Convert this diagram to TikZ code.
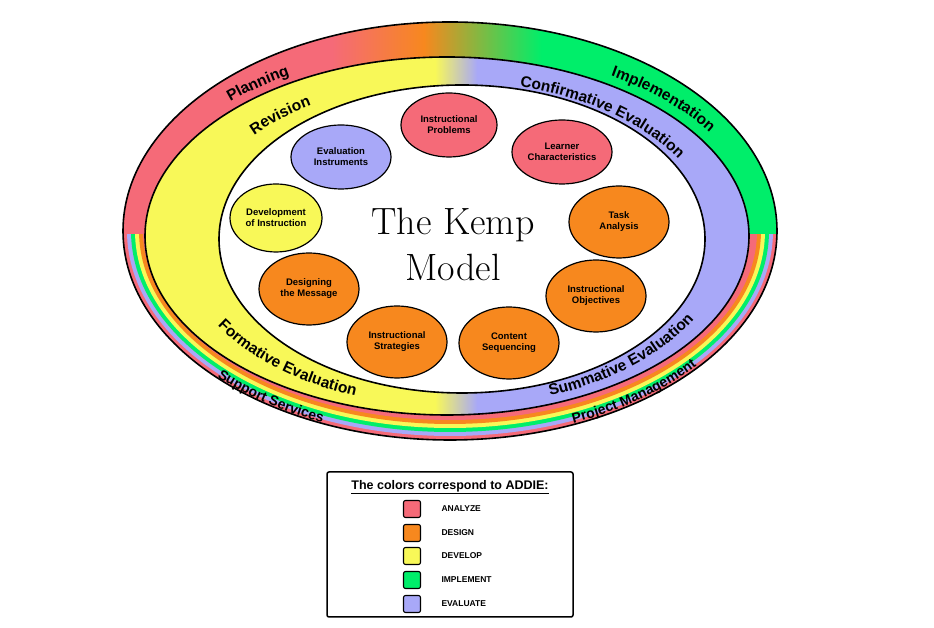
\documentclass[tikz,border=0pt]{standalone}
\usepackage{fontspec}
\setsansfont{Liberation Sans}
\usetikzlibrary{shapes.geometric,decorations.text}
\definecolor{kred}{HTML}{F56A78}
\definecolor{korange}{HTML}{F7881E}
\definecolor{kyellow}{HTML}{F8F858}
\definecolor{kgreen}{HTML}{00EE6A}
\definecolor{klav}{HTML}{A8A8F8}
\pgfdeclarehorizontalshading{topband}{100bp}{color(0bp)=(kred); color(41bp)=(kred); color(48bp)=(korange); color(57bp)=(kgreen); color(100bp)=(kgreen)}
\pgfdeclarehorizontalshading{midband}{100bp}{color(0bp)=(kyellow); color(49bp)=(kyellow); color(52.5bp)=(klav); color(100bp)=(klav)}
\begin{document}
\begin{tikzpicture}[x=1pt,y=1pt,
  kn/.style={ellipse,draw,line width=1.2pt,inner sep=0pt,align=center,
    font=\sffamily\bfseries\fontsize{9.5}{11}\selectfont},
  band/.style={decorate,decoration={text along path,text align=center,
    text={|\sffamily\bfseries\fontsize{15.5}{16}\selectfont|#1}}},
  sband/.style={decorate,decoration={text along path,text align=center,
    text={|\sffamily\bfseries\fontsize{14}{15}\selectfont|#1}}},
  sq/.style={draw,line width=1.1pt,rounded corners=2pt,minimum size=17pt,inner sep=0pt},
  lab/.style={anchor=west,font=\sffamily\bfseries\fontsize{8.5}{10}\selectfont}]
\useasboundingbox (0,0) rectangle (934,628);
\fill[white] (0,0) rectangle (934,628);
% outer band
\begin{scope}
\clip (0,393) rectangle (934,628);
\shade[shading=topband] (450,397) ellipse[x radius=327pt,y radius=209pt];
\end{scope}
\begin{scope}
\clip (0,0) rectangle (934,393);
\fill[kred] (450,397) ellipse[x radius=327pt,y radius=209pt];
\fill[klav] (450,397) ellipse[x radius=323pt,y radius=205pt];
\fill[kgreen] (450,397) ellipse[x radius=319pt,y radius=201pt];
\fill[kyellow] (450,397) ellipse[x radius=315pt,y radius=197pt];
\fill[korange] (450,397) ellipse[x radius=311pt,y radius=193pt];
\fill[kred] (450,397) ellipse[x radius=307pt,y radius=189pt];
\end{scope}
\draw[line width=1.6pt] (450,397) ellipse[x radius=327pt,y radius=209pt];
% middle band
\shade[shading=midband,draw=black,line width=1.6pt] (447,392) ellipse[x radius=302pt,y radius=179pt];
\filldraw[fill=white,line width=1.6pt] (462,389) ellipse[x radius=243pt,y radius=154pt];
% band texts
\path[band=Planning] (449,394) ++(150:312pt and 185pt) arc[start angle=150,end angle=108,x radius=312pt,y radius=185pt];
\path[band=Implementation] (449,394) ++(70:312pt and 185pt) arc[start angle=70,end angle=18,x radius=312pt,y radius=185pt];
\path[sband=Support Services] (449,396) ++(200:325pt and 207pt) arc[start angle=200,end angle=266,x radius=325pt,y radius=207pt];
\path[sband=Project Management] (449,396) ++(277:325pt and 207pt) arc[start angle=277,end angle=340,x radius=325pt,y radius=207pt];
\path[band=Revision] (452,390) ++(152:262pt and 157pt) arc[start angle=152,end angle=112,x radius=262pt,y radius=157pt];
\path[band=Confirmative Evaluation] (452,390) ++(86:262pt and 157pt) arc[start angle=86,end angle=14,x radius=262pt,y radius=157pt];
\path[band=Formative Evaluation] (452,390) ++(190:274pt and 169pt) arc[start angle=190,end angle=264,x radius=274pt,y radius=169pt];
\path[band=Summative Evaluation] (452,390) ++(278:276pt and 169pt) arc[start angle=278,end angle=350,x radius=276pt,y radius=169pt];
% nodes
\node[kn,fill=kred,minimum width=96pt,minimum height=64pt] (ip) at (449,503) {Instructional\\Problems};
\node[kn,fill=kred,minimum width=100pt,minimum height=64pt] (lc) at (562,476) {Learner\\Characteristics};
\node[kn,fill=korange,minimum width=100pt,minimum height=72pt] (ta) at (619,406) {Task\\Analysis};
\node[kn,fill=korange,minimum width=100pt,minimum height=72pt] (io) at (596,332) {Instructional\\Objectives};
\node[kn,fill=korange,minimum width=100pt,minimum height=72pt] (cs) at (509,285) {Content\\Sequencing};
\node[kn,fill=korange,minimum width=100pt,minimum height=72pt] (is) at (397,286) {Instructional\\Strategies};
\node[kn,fill=korange,minimum width=100pt,minimum height=72pt] (dm) at (309,339) {Designing\\the Message};
\node[kn,fill=kyellow,minimum width=92pt,minimum height=68pt] (di) at (276,410) {Development\\of Instruction};
\node[kn,fill=klav,minimum width=100pt,minimum height=64pt] (ei) at (341,471) {Evaluation\\Instruments};
\node[font=\fontsize{38}{46}\selectfont,align=center] (title) at (453,384) {The Kemp\\Model};
% legend
\draw[line width=1.5pt,rounded corners=2pt] (327,11) rectangle (573,156);
\node[font=\sffamily\bfseries\fontsize{12.5}{14}\selectfont,inner xsep=0pt] (lt) at (450,142) {The colors correspond to ADDIE:};
\draw[line width=0.9pt] ([yshift=2pt]lt.south west) -- ([yshift=2pt]lt.south east);
\node[sq,fill=kred] (s1) at (412,119) {};
\node[sq,fill=korange] (s2) at (412,95) {};
\node[sq,fill=kyellow] (s3) at (412,72) {};
\node[sq,fill=kgreen] (s4) at (412,48) {};
\node[sq,fill=klav] (s5) at (412,24) {};
\node[lab] (l1) at (438,119) {ANALYZE};
\node[lab] (l2) at (438,95) {DESIGN};
\node[lab] (l3) at (438,72) {DEVELOP};
\node[lab] (l4) at (438,48) {IMPLEMENT};
\node[lab] (l5) at (438,24) {EVALUATE};
\end{tikzpicture}
\end{document}
